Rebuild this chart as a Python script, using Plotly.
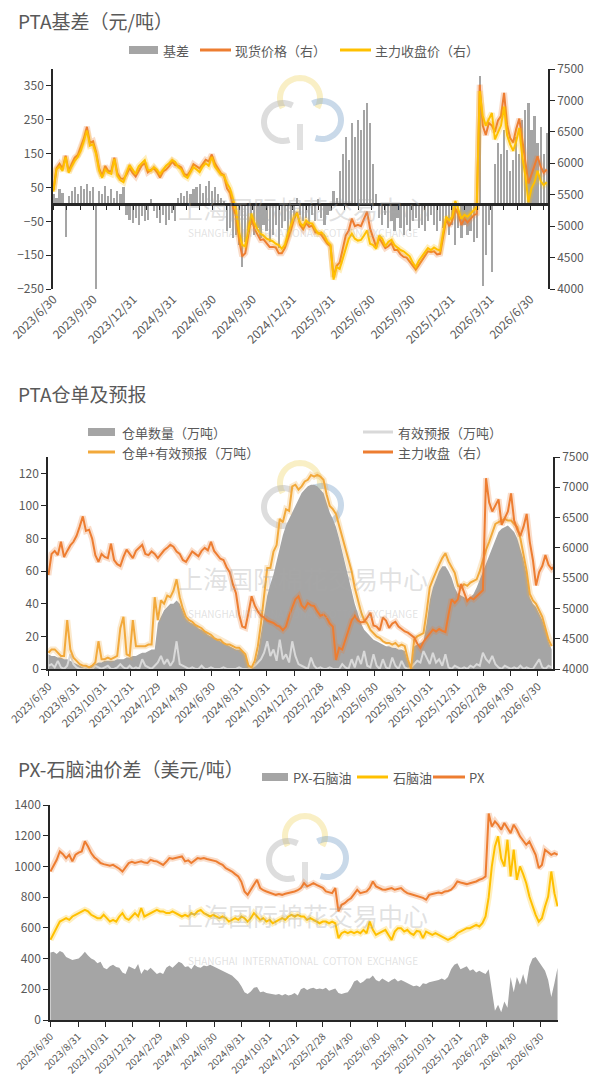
import math
import pandas as pd
import plotly.graph_objects as go

W, H = 603, 1086
OFF = 8                      # default page margin around the figure
FW, FH = W - 2 * OFF, H - 2 * OFF
FONT = "Noto Sans CJK SC"
TXT = "#595959"
AXIS = "#262626"
GREY = "#A5A5A5"
ORANGE = "#ED7D31"
YELLOW = "#FFC000"
GOLD = "#F2A93B"
LIGHT = "#D9D9D9"

START = "2023-06-30"   # weekly data from here

# ---- chart 1: PTA basis (yuan/t) ----
basis = [30, 20, 45, 35, -95, 25, 40, 50, 30, 55,
         45, 60, 40, 50, -250, 40, 30, 55, 25, 45,
         20, 40, 30, 50, -30, -45, -55, -40, -60, -35,
         -50, -45, 15, -20, -40, -55, -30, -60, -45, -25,
         -50, 20, 35, 25, 40, 30, 45, 50, 60, 35,
         55, 70, 40, 50, 30, 20, 10, -80, -70, -100,
         -90, -120, -185, -110, -80, -60, -90, -70, -100, -60,
         -80, -110, -90, -60, -130, -70, -50, -90, -60, -40,
         20, -30, -50, -40, -60, -30, -50, 15, -40, -60,
         -30, -20, 40, 20, 100, 150, 200, 130, 240, 200,
         250, 220, 280, 300, 240, 120, 30, -40, -60, -30,
         -70, -50, -80, -40, -70, -90, -60, -80, -50, -40,
         -70, -60, -80, -50, -30, -60, -80, -50, -70, -40,
         -90, -60, -120, -70, -100, -60, -90, -80, -110, -100,
         380, -240, -150, -60, -200, 120, 180, 150, 220, 160,
         100, 130, 200, 150, 250, 280, 300, 220, 260, 180,
         230, 150, 210]

spot_price = [5580, 5920, 5990, 5915, 6120, 5875, 5990, 6090, 6130, 6255,
              6395, 6580, 6320, 6350, 6180, 5920, 5800, 5955, 5875, 5875,
              6090, 5840, 5760, 5750, 5820, 5925, 5845, 5790, 5890, 5965,
              6000, 5855, 5895, 5920, 5860, 5775, 5870, 5900, 5955, 6025,
              5970, 5960, 5935, 5825, 5810, 5880, 5985, 5950, 5920, 5985,
              6055, 6030, 6140, 6000, 5910, 5840, 5810, 5600, 5530, 5300,
              5160, 4780, 4520, 4570, 4850, 5140, 4960, 4880, 4780, 4790,
              4720, 4670, 4670, 4660, 4570, 4570, 4650, 4790, 4940, 5110,
              5220, 5020, 4950, 5050, 4990, 5010, 4900, 4895, 4860, 4790,
              4720, 4680, 4190, 4370, 4420, 4630, 4850, 4930, 5120, 5000,
              5020, 5000, 5130, 5230, 4960, 4820, 4670, 4810, 4740, 4650,
              4680, 4730, 4620, 4620, 4550, 4510, 4500, 4440, 4370, 4310,
              4380, 4460, 4520, 4600, 4590, 4600, 4550, 4560, 4830, 5110,
              5000, 5090, 5280, 5180, 5020, 5120, 5060, 5120, 5170, 5200,
              7250, 6600, 6450, 6640, 6600, 6500, 6680, 6750, 7120, 6610,
              6400, 6330, 6550, 6710, 6350, 6080, 5680, 5820, 5960, 6110,
              5950, 5850, 5900]

close_price = [5550, 5900, 5950, 5880, 6100, 5850, 5950, 6040, 6100, 6200,
               6350, 6520, 6280, 6300, 6150, 5880, 5770, 5900, 5850, 5830,
               6070, 5800, 5730, 5700, 5850, 5970, 5900, 5830, 5950, 6000,
               6050, 5900, 5880, 5940, 5900, 5830, 5900, 5960, 6000, 6050,
               6020, 5940, 5900, 5800, 5770, 5850, 5940, 5900, 5860, 5950,
               6000, 5960, 6100, 5950, 5880, 5820, 5800, 5680, 5600, 5400,
               5250, 4900, 4700, 4680, 4930, 5200, 5050, 4950, 4880, 4850,
               4800, 4780, 4760, 4720, 4700, 4640, 4700, 4880, 5000, 5150,
               5200, 5050, 5000, 5090, 5050, 5040, 4950, 4880, 4900, 4850,
               4750, 4700, 4150, 4350, 4320, 4480, 4650, 4800, 4880, 4800,
               4770, 4780, 4850, 4930, 4720, 4700, 4640, 4850, 4800, 4680,
               4750, 4780, 4700, 4660, 4620, 4600, 4560, 4520, 4420, 4350,
               4450, 4520, 4600, 4650, 4620, 4660, 4630, 4610, 4900, 5150,
               5090, 5150, 5400, 5250, 5120, 5180, 5150, 5200, 5250, 5300,
               7150, 6750, 6600, 6700, 6800, 6380, 6500, 6600, 6900, 6450,
               6300, 6200, 6350, 6560, 6100, 5800, 5380, 5600, 5700, 5880,
               5720, 5650, 5700]

# ---- chart 2: PTA warehouse receipts (10k t) ----
warrants = [9, 8, 8, 7, 7, 6, 6, 5, 4, 3,
            2, 1, 1, 1, 2, 3, 4, 4, 5, 5,
            5, 5, 6, 6, 6, 7, 7, 8, 8, 9,
            10, 10, 11, 12, 12,
            28, 32, 36, 38, 40, 40, 42, 40, 35, 31,
            29, 28, 27, 25, 24, 23, 21, 20, 19, 18,
            17, 16, 15, 14, 13, 12, 12, 11, 8,
            1, 0, 3, 10, 22, 35, 45, 52, 58, 66,
            75, 82, 88, 92, 96, 99, 104, 108,
            110, 112, 113, 113, 112, 110, 108, 102, 96, 92,
            87, 80, 72, 63, 55, 48, 40, 34, 28, 24,
            22, 20, 18, 17, 16, 15, 14, 14, 13, 13,
            12, 12, 11, 5, 0, 14, 15, 16, 17, 28,
            42, 50, 55, 60, 63, 63, 60, 56, 50, 46,
            45, 44, 43, 44, 46, 50, 55, 60, 65, 69,
            75, 80, 84, 86, 87, 88, 86, 84, 80, 74,
            67, 58, 44, 40, 38, 34, 30, 24, 17, 12]

forecast = [2, 3, 1, 5, 1, 0, 2, 9, 3, 1,
            0, 0, 1, 0, 0, 2, 1, 0, 1, 2,
            0, 0, 1, 3, 1, 0, 2, 0, 1, 0,
            6, 2, 1, 0, 2,
            4, 8, 3, 6, 2, 5, 17, 3, 2, 1,
            0, 1, 0, 0, 2, 0, 0, 1, 0, 0,
            0, 1, 0, 0, 0, 0, 1, 0, 0,
            0, 1, 2, 4, 6, 10, 17, 8, 12, 5,
            18, 6, 9, 4, 17, 8, 3, 2,
            1, 0, 7, 2, 0, 1, 0, 0, 1, 0,
            0, 0, 3, 1, 0, 6, 1, 8, 3, 11,
            2, 1, 9, 2, 0, 6, 1, 0, 7, 2,
            0, 5, 1, 0, 1, 3, 5, 4, 11, 7,
            3, 10, 4, 6, 2, 9, 1, 0, 2, 1,
            0, 1, 0, 2, 1, 3, 2, 10, 6, 4,
            8, 3, 1, 0, 2, 1, 0, 1, 0, 2,
            0, 1, 0, 0, 3, 6, 1, 0, 2, 1]

warrants_plus_forecast = [10, 12, 12, 10, 8, 8, 30, 12, 7, 5,
                          3, 2, 2, 1, 2, 4, 17, 6, 6, 7,
                          6, 7, 8, 25, 32, 9, 8, 30, 14, 14,
                          14, 14, 15, 15, 44,
                          30, 42, 40, 45, 44, 48, 55, 44, 37, 32,
                          30, 29, 27, 26, 25, 23, 22, 21, 19, 18,
                          18, 16, 15, 15, 14, 13, 13, 11, 9,
                          2, 1, 5, 14, 28, 45, 62, 62, 72, 76,
                          92, 90, 98, 97, 112, 113, 110, 112,
                          115, 116, 119, 118, 119, 118, 116, 107, 100, 98,
                          95, 88, 81, 74, 66, 60, 50, 42, 35, 30,
                          28, 24, 22, 20, 19, 17, 16, 16, 15, 16,
                          14, 15, 14, 6, 0, 18, 20, 21, 22, 35,
                          50, 55, 60, 64, 68, 71, 66, 62, 59, 51,
                          50, 52, 51, 53, 54, 55, 60, 67, 73, 78,
                          84, 89, 90, 91, 92, 91, 91, 89, 87, 80,
                          71, 60, 46, 42, 40, 36, 32, 25, 18, 14]

# ---- chart 3: PX / naphtha (USD/t) ----
px_price = [967, 1010, 1043, 1098, 1080, 1054, 1076, 1033, 1076, 1090,
            1098, 1163, 1130, 1087, 1060, 1043, 1022, 1015, 1010, 1005,
            1010, 1000, 985, 967, 995, 1022, 1030, 1022, 1028, 1033,
            1025, 1022, 1043, 1035, 1033, 1020, 1010, 1030, 1054, 1050,
            1054, 1060, 1065, 1033, 1040, 1022, 1040, 1054, 1050, 1054,
            1048, 1043, 1040, 1033, 1020, 1010, 989, 980, 967, 950,
            935, 900, 837, 815, 848, 880, 913, 859, 845, 837,
            830, 826, 815, 820, 815, 822, 826, 830, 837, 845,
            859, 891, 870, 880, 891, 880, 870, 860, 837, 830,
            826, 859, 707, 750, 761, 780, 793, 820, 848, 826,
            830, 837, 860, 902, 870, 860, 850, 848, 855, 859,
            848, 852, 859, 840, 826, 820, 815, 810, 804, 795,
            783, 815, 820, 826, 830, 826, 837, 840, 848, 870,
            902, 895, 891, 885, 891, 895, 902, 913, 920, 935,
            1345, 1260, 1293, 1270, 1239, 1283, 1250, 1217, 1272, 1239,
            1196, 1170, 1141, 1163, 1120, 1076, 989, 1010, 1109, 1090,
            1076, 1087, 1076]

naphtha = [522, 565, 598, 641, 652, 663, 652, 674, 685, 696,
           707, 717, 707, 685, 674, 663, 663, 685, 663, 641,
           652, 641, 674, 696, 663, 652, 674, 696, 674, 728,
           674, 685, 696, 707, 717, 707, 707, 696, 696, 707,
           696, 685, 674, 685, 674, 696, 685, 707, 717, 696,
           685, 674, 685, 674, 663, 674, 663, 641, 652, 663,
           652, 674, 663, 641, 663, 696, 674, 652, 663, 641,
           652, 630, 641, 652, 663, 652, 674, 685, 674, 685,
           674, 674, 652, 663, 652, 641, 630, 641, 641, 630,
           641, 630, 533, 565, 576, 565, 576, 565, 576, 565,
           587, 565, 641, 587, 554, 565, 576, 587, 554, 522,
           576, 598, 598, 576, 587, 565, 554, 580, 576, 533,
           576, 565, 554, 565, 554, 543, 533, 522, 533, 543,
           565, 576, 587, 598, 598, 609, 620, 609, 630,
           674, 800, 1000, 1130, 1196, 1050, 1000, 1174, 935, 1109, 913,
           1000, 950, 891, 804, 739, 685, 640, 663, 739, 804,
           967, 826, 740]

px_naphtha_spread = [440, 445, 430, 450, 440, 410, 400, 390, 395, 400,
                     420, 445, 420, 400, 390, 370, 380, 340, 330, 350,
                     360, 345, 340, 310, 300, 350, 340, 330, 365, 300,
                     330, 320, 340, 320, 300, 310, 300, 340, 355, 340,
                     360, 380, 370, 345, 350, 330, 360, 345, 340, 355,
                     350, 360, 350, 340, 330, 320, 310, 300, 290, 270,
                     250, 220, 180, 170, 185, 210, 215, 180, 185, 175,
                     170, 170, 165, 170, 160, 170, 160, 165, 175, 160,
                     200, 210, 195, 205, 210, 200, 205, 200, 210, 190,
                     200, 205, 175, 170, 175, 180, 210, 250, 260, 240,
                     250, 270, 270, 290, 260, 250, 270, 255, 245, 260,
                     270, 250, 260, 250, 240, 230, 220, 225, 215, 240,
                     235, 245, 250, 255, 260, 270, 260, 280, 330, 360,
                     370, 330, 340, 350, 320, 330, 310, 320, 310, 300,
                     330, 200, 60, 100, 50, 120, 80, 280, 180, 280,
                     230, 300, 230, 350, 400, 410, 380, 350, 320, 260,
                     150, 240, 340]

quarter_labels = ["2023/6/30", "2023/9/30", "2023/12/31", "2024/3/31", "2024/6/30",
                  "2024/9/30", "2024/12/31", "2025/3/31", "2025/6/30", "2025/9/30",
                  "2025/12/31", "2026/3/31", "2026/6/30"]
bimonth_labels = ["2023/6/30", "2023/8/31", "2023/10/31", "2023/12/31", "2024/2/29",
                  "2024/4/30", "2024/6/30", "2024/8/31", "2024/10/31", "2024/12/31",
                  "2025/2/28", "2025/4/30", "2025/6/30", "2025/8/31", "2025/10/31",
                  "2025/12/31", "2026/2/28", "2026/4/30", "2026/6/30"]


def weeks(values):
    return pd.date_range(START, periods=len(values), freq="7D")


def to_dates(labels):
    return [pd.to_datetime(s, format="%Y/%m/%d") for s in labels]


# page pixel -> paper fraction (figure sits OFF px inside the page)
def px_x(v):
    return (v - OFF) / FW


def px_y(v):
    return 1 - (v - OFF) / FH


fig = go.Figure()


def line_with_glow(vals, color, xa, ya):
    fig.add_trace(go.Scatter(x=weeks(vals), y=vals, mode="lines", hoverinfo="skip",
                             line=dict(color=color, width=6), opacity=0.25, xaxis=xa, yaxis=ya))
    fig.add_trace(go.Scatter(x=weeks(vals), y=vals, mode="lines",
                             line=dict(color=color, width=2), xaxis=xa, yaxis=ya))


# chart 1
d1 = weeks(basis)
fig.add_trace(go.Bar(x=d1, y=basis, name="基差", marker_color=GREY, marker_line_width=0,
                     width=5 * 86400000, xaxis="x", yaxis="y"))
line_with_glow(spot_price, ORANGE, "x", "y2")
line_with_glow(close_price, YELLOW, "x", "y2")
# dummy trace so the zero-line axis gets drawn
fig.add_trace(go.Scatter(x=[d1[0]], y=[None], mode="lines", hoverinfo="skip", xaxis="x4", yaxis="y"))

# chart 2
fig.add_trace(go.Scatter(x=weeks(warrants), y=warrants, mode="lines", name="仓单数量（万吨）",
                         fill="tozeroy", fillcolor=GREY, line=dict(color=GREY, width=0),
                         xaxis="x2", yaxis="y3"))
fig.add_trace(go.Scatter(x=weeks(forecast), y=forecast, mode="lines", name="有效预报（万吨）",
                         line=dict(color=LIGHT, width=2), xaxis="x2", yaxis="y3"))
line_with_glow(warrants_plus_forecast, GOLD, "x2", "y3")
line_with_glow(close_price, ORANGE, "x2", "y4")

# chart 3
fig.add_trace(go.Scatter(x=weeks(px_naphtha_spread), y=px_naphtha_spread, mode="lines",
                         fill="tozeroy", fillcolor=GREY, line=dict(color=GREY, width=0),
                         xaxis="x3", yaxis="y5"))
line_with_glow(naphtha, YELLOW, "x3", "y5")
line_with_glow(px_price, ORANGE, "x3", "y5")


def xax(dom, anchor, labels, end, size):
    return dict(domain=dom, anchor=anchor, type="date", tickvals=to_dates(labels), ticktext=labels,
                tickangle=-45, tickfont=dict(family=FONT, size=size, color=TXT),
                ticklabeloverflow="allow", showgrid=False, zeroline=False, automargin=False,
                showline=True, linecolor=AXIS, linewidth=1.5, ticks="outside", ticklen=5,
                tickcolor=AXIS, range=[pd.Timestamp(START) - pd.Timedelta(days=1), end])


def yax(dom, anchor, rng, tickvals, side="left", overlay=None):
    d = dict(range=rng, tickvals=tickvals, tickfont=dict(family=FONT, size=12, color=TXT),
             showgrid=False, zeroline=False,
             showline=True, linecolor=AXIS, linewidth=1.5, ticks="outside", ticklen=5,
             tickcolor=AXIS, anchor=anchor, side=side, automargin=False)
    if overlay:
        d["overlaying"] = overlay
    else:
        d["domain"] = dom
    return d


dom1x = [px_x(53), px_x(548)]
dom1y = [px_y(289), px_y(69)]
dom2x = [px_x(48), px_x(553)]
dom2y = [px_y(669), px_y(457)]
dom3x = [px_x(50), px_x(558)]
dom3y = [px_y(1020), px_y(805)]

end1 = d1[-1] + pd.Timedelta(days=3)
end2 = weeks(warrants)[-1] + pd.Timedelta(days=3)
end3 = weeks(px_price)[-1] + pd.Timedelta(days=1)

y1_range = [-250, 400]
zero_pos = dom1y[0] + (0 - y1_range[0]) / (y1_range[1] - y1_range[0]) * (dom1y[1] - dom1y[0])
month_ticks = pd.date_range(START, end1, freq="ME")

x1 = xax(dom1x, "y", quarter_labels, end1, 12)
x1.update(showline=False, ticks="")

fig.update_layout(
    template="none",
    width=FW, height=FH, margin=dict(l=0, r=0, t=0, b=0, autoexpand=False),
    paper_bgcolor="white", plot_bgcolor="rgba(0,0,0,0)",
    font=dict(family=FONT, color=TXT), barmode="overlay", bargap=0, showlegend=False,
    xaxis=x1,
    xaxis2=xax(dom2x, "y3", bimonth_labels, end2, 11),
    xaxis3=xax(dom3x, "y5", bimonth_labels, end3, 10),
    xaxis4=dict(matches="x", overlaying="x", anchor="free", position=zero_pos, type="date",
                showline=True, linecolor=AXIS, linewidth=2.5, ticks="outside", ticklen=4,
                tickcolor=AXIS, tickvals=month_ticks, showticklabels=False, showgrid=False,
                zeroline=False, automargin=False),
    yaxis=yax(dom1y, "x", y1_range, list(range(-250, 400, 100))),
    yaxis2=yax(None, "x", [4000, 7500], list(range(4000, 7501, 500)), side="right", overlay="y"),
    yaxis3=yax(dom2y, "x2", [0, 130], list(range(0, 121, 20))),
    yaxis4=yax(None, "x2", [4000, 7500], list(range(4000, 7501, 500)), side="right", overlay="y3"),
    yaxis5=yax(dom3y, "x3", [0, 1400], list(range(0, 1401, 200))),
)

# titles
for text, ty in [("PTA基差（元/吨）", 20), ("PTA仓单及预报", 393), ("PX-石脑油价差（美元/吨）", 768)]:
    fig.add_annotation(text=text, x=px_x(16), y=px_y(ty), xref="paper", yref="paper",
                       xanchor="left", yanchor="middle", showarrow=False,
                       font=dict(family=FONT, size=19, color=TXT))


# legends drawn by hand (Excel-style swatches)
def legend_item(x0, x1, y, kind, color, text, tx):
    if kind == "rect":
        fig.add_shape(type="rect", x0=px_x(x0), x1=px_x(x1), y0=px_y(y + 4), y1=px_y(y - 4),
                      xref="paper", yref="paper", fillcolor=color, line=dict(width=0))
    else:
        fig.add_shape(type="line", x0=px_x(x0), x1=px_x(x1), y0=px_y(y), y1=px_y(y),
                      xref="paper", yref="paper", line=dict(color=color, width=3))
    fig.add_annotation(text=text, x=px_x(tx), y=px_y(y), xref="paper", yref="paper",
                       xanchor="left", yanchor="middle", showarrow=False,
                       font=dict(family=FONT, size=13, color=TXT))


legend_item(129, 158, 50, "rect", GREY, "基差", 161)
legend_item(200, 231, 50, "line", ORANGE, "现货价格（右）", 233)
legend_item(340, 371, 50, "line", YELLOW, "主力收盘价（右）", 373)

legend_item(88, 115, 432, "rect", GREY, "仓单数量（万吨）", 120)
legend_item(363, 393, 432, "line", LIGHT, "有效预报（万吨）", 396)
legend_item(88, 115, 452, "line", GOLD, "仓单+有效预报（万吨）", 120)
legend_item(363, 393, 452, "line", ORANGE, "主力收盘（右）", 396)

legend_item(262, 288, 777, "rect", GREY, "PX-石脑油", 291)
legend_item(357, 388, 777, "line", YELLOW, "石脑油", 391)
legend_item(433, 465, 777, "line", ORANGE, "PX", 467)


# watermark (logo arcs + text)
def arc(cx, cy, r, a0, a1, n=36):
    pts = []
    for k in range(n + 1):
        a = math.radians(a0 + (a1 - a0) * k / n)
        pts.append((px_x(cx + r * math.cos(a)), px_y(cy - r * math.sin(a))))
    return "M " + " L ".join(f"{x:.5f},{y:.5f}" for x, y in pts)


def add_logo(cx, cy):
    for dx, dy, r, a0, a1, col in [(0, -14, 20, -30, 210, "rgba(240,215,110,0.40)"),
                                   (-17, 10, 19, 60, 290, "rgba(170,170,170,0.40)"),
                                   (22, 8, 19, -110, 120, "rgba(120,160,200,0.40)")]:
        fig.add_shape(type="path", path=arc(cx + dx, cy + dy, r, a0, a1), xref="paper", yref="paper",
                      line=dict(color=col, width=6), layer="below")
    fig.add_shape(type="line", x0=px_x(cx), x1=px_x(cx), y0=px_y(cy + 12), y1=px_y(cy + 38),
                  xref="paper", yref="paper", line=dict(color="rgba(170,170,170,0.35)", width=6),
                  layer="below")


for cx, cy, ty in [(300, 112, 188), (300, 497, 578), (305, 850, 935)]:
    add_logo(cx, cy)
    fig.add_annotation(text="上海国际棉花交易中心", x=px_x(303), y=px_y(ty), xref="paper", yref="paper",
                       showarrow=False, font=dict(family=FONT, size=25, color="rgba(170,170,170,0.35)"))
    fig.add_annotation(text="SHANGHAI  INTERNATIONAL  COTTON  EXCHANGE", x=px_x(303), y=px_y(ty + 35),
                       xref="paper", yref="paper", showarrow=False,
                       font=dict(family=FONT, size=10, color="rgba(170,170,170,0.35)"))

fig.write_html("out.html")
